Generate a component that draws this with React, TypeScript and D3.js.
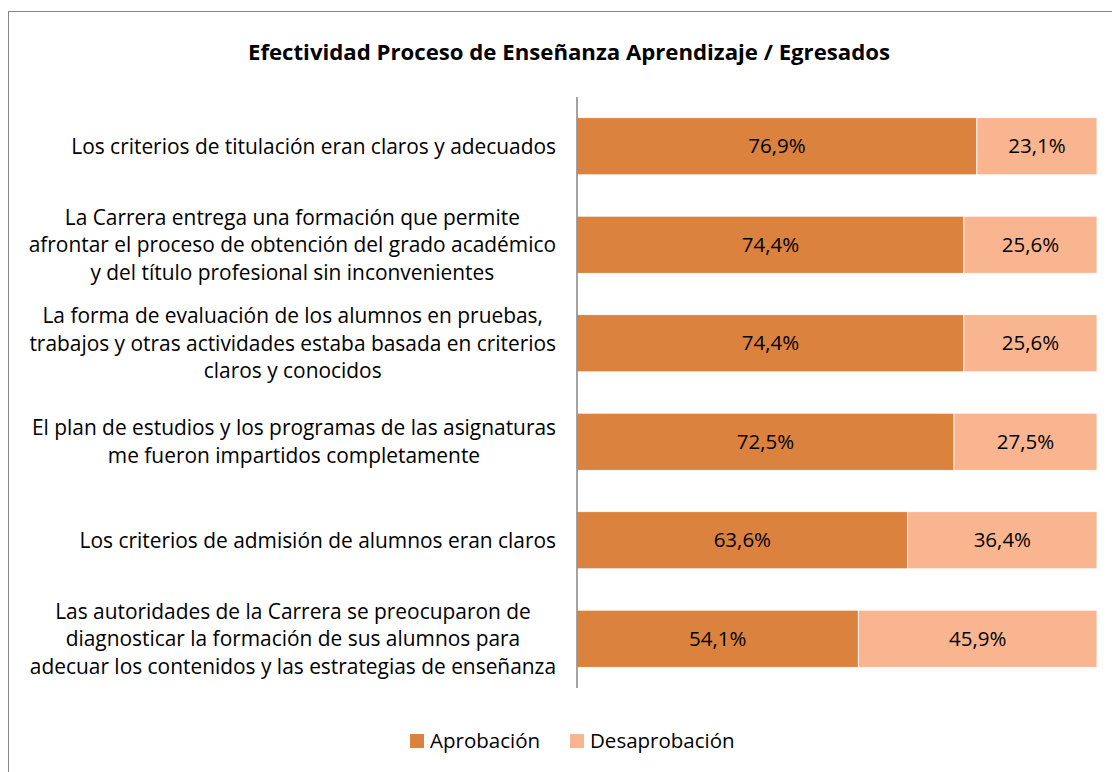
import React, { useEffect, useRef } from "react";
import * as d3 from "d3";

// chart data
const categories = [
  "Los criterios de titulación eran claros y adecuados",
  "La Carrera entrega una formación que permite|afrontar el proceso de obtención del grado académico|y del título profesional sin inconvenientes",
  "La forma de evaluación de los alumnos en pruebas,|trabajos y otras actividades estaba basada en criterios|claros y conocidos",
  "El plan de estudios y los programas de las asignaturas|me fueron impartidos completamente",
  "Los criterios de admisión de alumnos eran claros",
  "Las autoridades de la Carrera se preocuparon de|diagnosticar la formación de sus alumnos para|adecuar los contenidos y las estrategias de enseñanza",
];
const aprobacion = [76.9, 74.4, 74.4, 72.5, 63.6, 54.1];
const desaprobacion = [23.1, 25.6, 25.6, 27.5, 36.4, 45.9];
const seriesNames = ["Aprobación", "Desaprobación"];
const colors = ["#DB823E", "#F9B590"];

const FONT = "'Open Sans', sans-serif";

export default function App() {
  const ref = useRef<SVGSVGElement>(null);

  useEffect(() => {
    const svg = d3.select(ref.current);
    svg.selectAll("*").remove();

    const x0 = 577, x1 = 1097;
    const yTop = 97, yBot = 688;

    // outer frame
    svg.append("rect")
      .attr("x", 8.5).attr("y", 11.5)
      .attr("width", 1200).attr("height", 900)
      .attr("fill", "#fff").attr("stroke", "#868686");

    svg.append("text")
      .attr("x", 569).attr("y", 52)
      .attr("dy", "0.35em")
      .attr("text-anchor", "middle")
      .attr("font-family", FONT).attr("font-weight", "bold")
      .attr("font-size", 22.2)
      .text("Efectividad Proceso de Enseñanza Aprendizaje / Egresados");

    const x = d3.scaleLinear().domain([0, 100]).range([x0, x1]);
    const y = d3.scaleBand<number>()
      .domain(d3.range(categories.length))
      .range([yTop, yBot])
      .paddingInner(0.42).paddingOuter(0.21);

    const rows = categories.map((c, i) => ({ i, a: aprobacion[i], d: desaprobacion[i] }));
    const stack = d3.stack<any>().keys(["a", "d"])(rows);

    stack.forEach((s, k) => {
      const g = svg.append("g");
      g.selectAll("rect").data(s).enter().append("rect")
        .attr("x", (d) => x(d[0]))
        .attr("y", (d) => y(d.data.i)!)
        .attr("width", (d) => x(d[1]) - x(d[0]))
        .attr("height", y.bandwidth())
        .attr("fill", colors[k])
        .attr("stroke", "#fff").attr("stroke-width", 0.8);
      g.selectAll("text").data(s).enter().append("text")
        .attr("x", (d) => (x(d[0]) + x(d[1])) / 2)
        .attr("y", (d) => y(d.data.i)! + y.bandwidth() / 2)
        .attr("dy", "0.35em")
        .attr("text-anchor", "middle")
        .attr("font-family", FONT).attr("font-size", 20.5)
        .attr("fill", "#000")
        .text((d) => (d[1] - d[0]).toFixed(1).replace(".", ",") + "%");
    });

    // axis line
    svg.append("line")
      .attr("x1", x0).attr("x2", x0)
      .attr("y1", yTop).attr("y2", yBot)
      .attr("stroke", "#868686").attr("stroke-width", 1.5);

    // category labels, block right-aligned, lines centered
    const lineH = 27.5;
    const right = 556;
    categories.forEach((c, i) => {
      const lines = c.split("|");
      const cy = y(i)! + y.bandwidth() / 2;
      const g = svg.append("g");
      const texts = lines.map((ln, j) =>
        g.append("text")
          .attr("y", cy + (j - (lines.length - 1) / 2) * lineH)
          .attr("dy", "0.35em")
          .attr("text-anchor", "middle")
          .attr("font-family", FONT).attr("font-size", 20.9)
          .attr("fill", "#000")
          .text(ln)
      );
      const maxW = d3.max(texts, (t) => (t.node() as SVGTextElement).getComputedTextLength()) || 0;
      texts.forEach((t) => t.attr("x", right - maxW / 2));
    });

    // legend
    const legX = [410, 570];
    seriesNames.forEach((n, k) => {
      svg.append("rect")
        .attr("x", legX[k]).attr("y", 734)
        .attr("width", 14).attr("height", 14)
        .attr("fill", colors[k]);
      svg.append("text")
        .attr("x", legX[k] + 20).attr("y", 741)
        .attr("dy", "0.35em")
        .attr("font-family", FONT).attr("font-size", 20.5)
        .attr("fill", "#000")
        .text(n);
    });
  }, []);

  return (
    <svg
      ref={ref}
      width={1112}
      height={772}
      style={{ position: "absolute", left: 0, top: 0, background: "#fff" }}
    />
  );
}
